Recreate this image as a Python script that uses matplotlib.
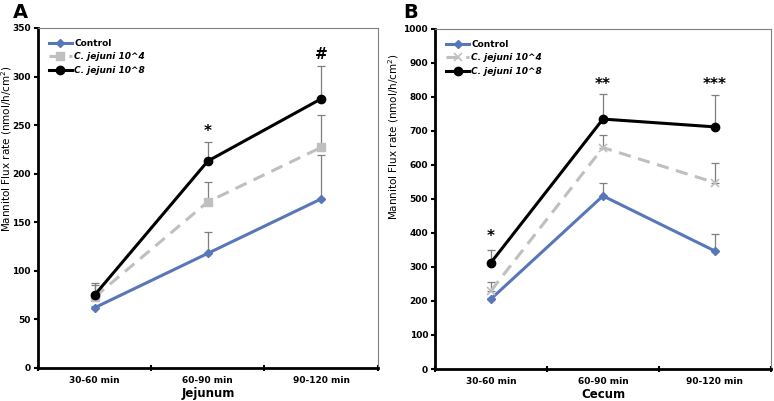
import numpy as np
import matplotlib.pyplot as plt

plt.rcParams['font.family'] = ['DejaVu Sans']

cats = ['30-60 min', '60-90 min', '90-120 min']
series = ['Control', 'C. jejuni 10^4', 'C. jejuni 10^8']

# Jejunum
jej_mean = {'Control': [62, 118, 174],
            'C. jejuni 10^4': [73, 171, 227],
            'C. jejuni 10^8': [75, 213, 277]}
jej_err = {'Control': [2, 22, 45],
           'C. jejuni 10^4': [12, 20, 33],
           'C. jejuni 10^8': [12, 20, 34]}
jej_sig = ['', '*', '#']
jej_sig_y = [0, 243, 323]

# Cecum
cec_mean = {'Control': [206, 509, 347],
            'C. jejuni 10^4': [230, 651, 548],
            'C. jejuni 10^8': [313, 735, 712]}
cec_err = {'Control': [3, 39, 50],
           'C. jejuni 10^4': [25, 37, 57],
           'C. jejuni 10^8': [37, 73, 94]}
cec_sig = ['*', '**', '***']
cec_sig_y = [389, 838, 838]

blue = '#5877b8'
grey = '#bfbfbf'
styles = {'Control': dict(color=blue, ls='-', marker='D', ms=4),
          'C. jejuni 10^4': dict(color=grey, ls=(0, (4, 2.5)), marker='s', ms=6),
          'C. jejuni 10^8': dict(color='black', ls='-', marker='o', ms=6)}

fig = plt.figure(figsize=(7.74, 4.01), dpi=100)
axA = fig.add_axes([0.049, 0.0823, 0.439, 0.848])
axB = fig.add_axes([0.562, 0.0798, 0.434, 0.848])


def draw(ax, means, errs, ymax, ystep, xlabel, sig, sig_y, marker4, lab_xy):
    x = np.arange(len(cats)) + 0.5
    for s in series:
        st = dict(styles[s])
        if s == 'C. jejuni 10^4':
            st['marker'] = marker4
            if marker4 == 'x':
                st['ms'] = 6
                st['mew'] = 1.2
        ax.errorbar(x, means[s], yerr=[np.zeros(3), errs[s]], fmt='none',
                    ecolor='#7f7f7f', elinewidth=0.9, capsize=3, capthick=0.9, zorder=1)
        ax.plot(x, means[s], lw=2.2, label=s, zorder=3, **st)
    for xi, t, yv in zip(x, sig, sig_y):
        if t:
            ax.text(xi, yv, t, ha='center', va='center', fontsize=11, fontweight='bold')
    ax.set_xlim(0, 3)
    ax.set_ylim(0, ymax)
    ax.set_yticks(np.arange(0, ymax + 1, ystep))
    ax.set_xticks([0, 1, 2, 3])
    ax.set_xticklabels([])
    ax.set_xticks(x, minor=True)
    ax.set_xticklabels(cats, minor=True)
    ax.tick_params(axis='x', which='minor', length=0, pad=6)
    ax.tick_params(axis='x', which='major', length=4, width=1.5, direction='inout')
    ax.tick_params(axis='y', length=3, width=1.5, direction='out', pad=2)
    for lab in ax.get_xticklabels(minor=True) + ax.get_yticklabels():
        lab.set_fontsize(6.5)
        lab.set_fontweight('bold')
    for sp in ['left', 'bottom']:
        ax.spines[sp].set_linewidth(2)
    for sp in ['top', 'right']:
        ax.spines[sp].set_linewidth(0.8)
        ax.spines[sp].set_color('#808080')
    ax.set_xlabel(xlabel, fontsize=8.5, fontweight='bold', labelpad=1)
    ax.set_ylabel('Mannitol Flux rate (nmol/h/cm$^{2}$)', fontsize=7.5)
    ax.yaxis.set_label_coords(*lab_xy)
    leg = ax.legend(loc='upper left', frameon=False, handlelength=2.6,
                    handletextpad=0.2, labelspacing=0.5, borderaxespad=0.8,
                    prop=dict(size=6.5, weight='bold'))
    for t in leg.get_texts()[1:]:
        t.set_fontstyle('italic')


draw(axA, jej_mean, jej_err, 350, 50, 'Jejunum', jej_sig, jej_sig_y, 's', (-0.071, 0.644))
draw(axB, cec_mean, cec_err, 1000, 100, 'Cecum', cec_sig, cec_sig_y, 'x', (-0.1, 0.682))

fig.text(13 / 774, 1 - 13 / 401, 'A', fontsize=14, fontweight='bold', va='center')
fig.text(403 / 774, 1 - 13 / 401, 'B', fontsize=14, fontweight='bold', va='center')

fig.savefig('out.png', dpi=100)
